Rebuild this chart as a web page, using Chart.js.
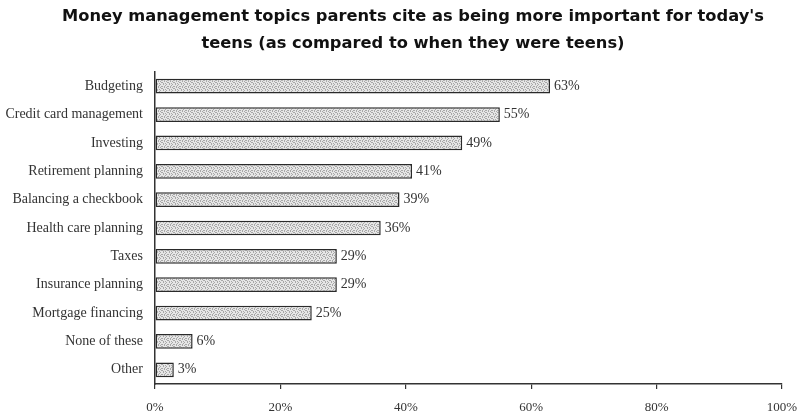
<!DOCTYPE html>
<html>
<head>
<meta charset="utf-8">
<script src="https://cdn.jsdelivr.net/npm/chart.js@4"></script>
<style>
  html, body { margin: 0; padding: 0; background: #fff; }
  #wrap { width: 800px; height: 415px; }
</style>
</head>
<body>
<div id="wrap"><canvas id="chart" width="800" height="415"></canvas></div>
<script>
// Topics and share of parents citing them
const topics = [
    'Budgeting', 'Credit card management', 'Investing', 'Retirement planning',
    'Balancing a checkbook', 'Health care planning', 'Taxes', 'Insurance planning',
    'Mortgage financing', 'None of these', 'Other'
];
const shares = [63, 55, 49, 41, 39, 36, 29, 29, 25, 6, 3];
const xTicks = [0, 20, 40, 60, 80, 100];

const titleLines = [
    "Money management topics parents cite as being more important for today's",
    'teens (as compared to when they were teens)'
];

// Stippled grey fill, like the old print-style bars
function makeStipple() {
    const rows = [
        '.x..x.',
        '...x..',
        'x.x..x',
        '..x.x.',
        'x....x',
        '.x.x..'
    ];
    const c = document.createElement('canvas');
    c.width = 6; c.height = 6;
    const ctx = c.getContext('2d');
    ctx.fillStyle = '#e6e6e6';
    ctx.fillRect(0, 0, 6, 6);
    ctx.fillStyle = '#a8a8a8';
    rows.forEach((r, y) => {
        [...r].forEach((ch, x) => { if (ch === 'x') ctx.fillRect(x, y, 1, 1); });
    });
    return ctx.createPattern(c, 'repeat');
}

const serifFamily = '"Liberation Serif", "Times New Roman", serif';

// Writes "63%" just past the end of each bar
const valueLabels = {
    id: 'valueLabels',
    afterDatasetsDraw(chart) {
        const ctx = chart.ctx;
        const meta = chart.getDatasetMeta(0);
        ctx.save();
        ctx.font = '14px ' + serifFamily;
        ctx.fillStyle = '#333';
        ctx.textBaseline = 'middle';
        ctx.textAlign = 'left';
        meta.data.forEach((bar, i) => {
            ctx.fillText(shares[i] + '%', bar.x + 4, bar.y);
        });
        ctx.restore();
    }
};

// Two-line heading, sitting a little right of the page centre as in the original
const heading = {
    id: 'heading',
    afterDraw(chart) {
        const ctx = chart.ctx;
        ctx.save();
        ctx.font = 'bold 16.3px "DejaVu Sans", sans-serif';
        ctx.fillStyle = '#111';
        ctx.textAlign = 'center';
        ctx.textBaseline = 'middle';
        titleLines.forEach((line, i) => ctx.fillText(line, 413, 17 + i * 27));
        ctx.restore();
    }
};

new Chart(document.getElementById('chart'), {
    type: 'bar',
    data: {
        labels: topics,
        datasets: [{
            data: shares,
            backgroundColor: makeStipple(),
            borderColor: '#2a2a2a',
            borderWidth: 1.5,
            borderSkipped: false,
            categoryPercentage: 1,
            barPercentage: 0.52
        }]
    },
    options: {
        indexAxis: 'y',
        responsive: false,
        animation: false,
        layout: { padding: { left: 0, right: 18, top: 72, bottom: 0 } },
        plugins: {
            legend: { display: false },
            tooltip: { enabled: false },
            title: { display: false }
        },
        scales: {
            x: {
                min: 0,
                max: 100,
                afterBuildTicks(scale) {
                    scale.ticks = xTicks.map(v => ({ value: v }));
                },
                afterFit(scale) {
                    scale.height = 31;
                    scale.paddingLeft = 0;
                    scale.paddingRight = 0;
                },
                ticks: {
                    callback: v => v + '%',
                    color: '#333',
                    font: { family: serifFamily, size: 13 },
                    padding: 11,
                    maxRotation: 0
                },
                grid: { drawOnChartArea: false, drawTicks: true, tickLength: 5, color: '#333', lineWidth: 1.2 },
                border: { display: true, color: '#333', width: 1.5 }
            },
            y: {
                afterFit(scale) { scale.width = 155; },
                ticks: { color: '#333', font: { family: serifFamily, size: 14 }, padding: 12, autoSkip: false },
                grid: { drawOnChartArea: false, drawTicks: false },
                border: { display: true, color: '#333', width: 1.5 }
            }
        }
    },
    plugins: [valueLabels, heading]
});
</script>
</body>
</html>
